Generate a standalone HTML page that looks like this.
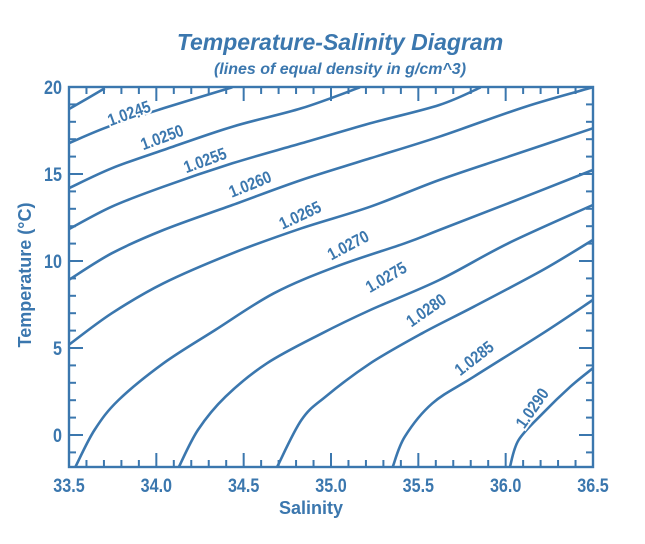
<!DOCTYPE html>
<html><head><meta charset="utf-8"><style>
body{margin:0;background:#fff;}
svg{display:block;font-family:"Liberation Sans",sans-serif;}
</style></head><body>
<svg id="s" width="645" height="544" xmlns="http://www.w3.org/2000/svg">
<text x="340" y="50" text-anchor="middle" font-size="23" font-weight="bold" font-style="italic" fill="#3b77ae">Temperature-Salinity Diagram</text>
<text x="340" y="74" text-anchor="middle" font-size="16" font-weight="bold" font-style="italic" fill="#3b77ae">(lines of equal density in g/cm^3)</text>
<g id="g" fill="none" stroke="#3b77ae" stroke-width="2.6"></g>
<g id="t" font-size="19" font-weight="bold" fill="#3b77ae"></g>
<text x="311" y="514" text-anchor="middle" font-size="18" font-weight="bold" fill="#3b77ae">Salinity</text>
<text transform="translate(31,275) rotate(-90)" text-anchor="middle" font-size="18" font-weight="bold" fill="#3b77ae">Temperature (°C)</text>
</svg>
<script>
var X0=69,X1=593,Y20=87,Y0=435,YB=467;
function px(S){return X0+(S-33.5)*(X1-X0)/3;}
function py(T){return Y0-(T)*(Y0-Y20)/20;}
var g=document.getElementById('g'),tg=document.getElementById('t');
var ns="http://www.w3.org/2000/svg";
function el(n,a,p){var e=document.createElementNS(ns,n);for(var k in a)e.setAttribute(k,a[k]);p.appendChild(e);return e;}
var L=[
[[25,88],[130,25]],
[[25,190],[140,140],[300,85],[500,22]],
[[25,325],[150,265],[300,210],[500,140],[700,85],[870,22]],
[[25,448],[150,380],[300,320],[500,250],[700,190],[900,130],[1100,75],[1220,22]],
[[25,600],[150,520],[300,450],[500,375],[700,300],[900,235],[1100,170],[1350,80],[1545,22]],
[[25,795],[150,700],[300,610],[500,520],[700,445],[900,380],[1100,300],[1300,230],[1545,145]],
[[45,1160],[100,1050],[170,960],[300,850],[450,750],[620,640],[800,560],[1000,490],[1100,450],[1300,370],[1545,270]],
[[345,1160],[400,1050],[480,950],[600,850],[760,760],[900,690],[1100,600],[1300,490],[1545,375]],
[[630,1160],[700,1020],[770,950],[900,850],[1050,760],[1200,680],[1400,570],[1545,480]],
[[965,1160],[1000,1070],[1080,970],[1200,890],[1400,760],[1545,660]],
[[1305,1160],[1330,1080],[1400,1000],[1480,920],[1545,865]]];
L.forEach(function(a){var p=a.map(function(q){return [60+q[0]/2.9,80+q[1]/3];});
var d="M"+p[0][0].toFixed(1)+","+p[0][1].toFixed(1);
for(var i=0;i<p.length-1;i++){var p0=p[i>0?i-1:0],p1=p[i],p2=p[i+1],p3=p[i+2<p.length?i+2:i+1];
var c1=[p1[0]+(p2[0]-p0[0])/6,p1[1]+(p2[1]-p0[1])/6],c2=[p2[0]-(p3[0]-p1[0])/6,p2[1]-(p3[1]-p1[1])/6];
d+=" C"+c1[0].toFixed(1)+","+c1[1].toFixed(1)+" "+c2[0].toFixed(1)+","+c2[1].toFixed(1)+" "+p2[0].toFixed(1)+","+p2[1].toFixed(1);}
el('path',{d:d},g);});
el('rect',{x:X0,y:Y20,width:X1-X0,height:YB-Y20,'stroke-width':2.4},g);
for(var i=0;i<=30;i++){var x=px(33.5+i*0.1),l=(i%5==0)?14:7;
el('line',{x1:x,y1:YB,x2:x,y2:YB-l,'stroke-width':2},g);el('line',{x1:x,y1:Y20,x2:x,y2:Y20+l,'stroke-width':2},g);}
for(var T=-1;T<=20;T++){var y=py(T),l=(T%5==0)?14:7;
el('line',{x1:X0,y1:y,x2:X0+l,y2:y,'stroke-width':2},g);el('line',{x1:X1,y1:y,x2:X1-l,y2:y,'stroke-width':2},g);}
for(var i=0;i<=6;i++){var t=el('text',{x:0,y:0,'text-anchor':'middle',transform:'translate('+px(33.5+i*0.5)+',492) scale(0.85,1)'},tg);t.textContent=(33.5+i*0.5).toFixed(1);}
[0,5,10,15,20].forEach(function(T){var t=el('text',{x:0,y:0,'text-anchor':'end',transform:'translate(62,'+(py(T)+7)+') scale(0.85,1)'},tg);t.textContent=T;});
var labs=[["1.0245",129,113,-20],["1.0250",162,137,-20],["1.0255",205,160,-20],["1.0260",250,184,-22],["1.0265",300,215,-25],["1.0270",348,245,-28],["1.0275",386,277,-30],["1.0280",426,310,-35],["1.0285",474,358,-38],["1.0290",532,408,-55]];
labs.forEach(function(l){var t=el('text',{x:0,y:6,'text-anchor':'middle','font-size':17,stroke:'#fff','stroke-width':4,'paint-order':'stroke',transform:'translate('+l[1]+','+l[2]+') rotate('+l[3]+') scale(0.85,1)'},tg);t.textContent=l[0];});
</script>
</body></html>
